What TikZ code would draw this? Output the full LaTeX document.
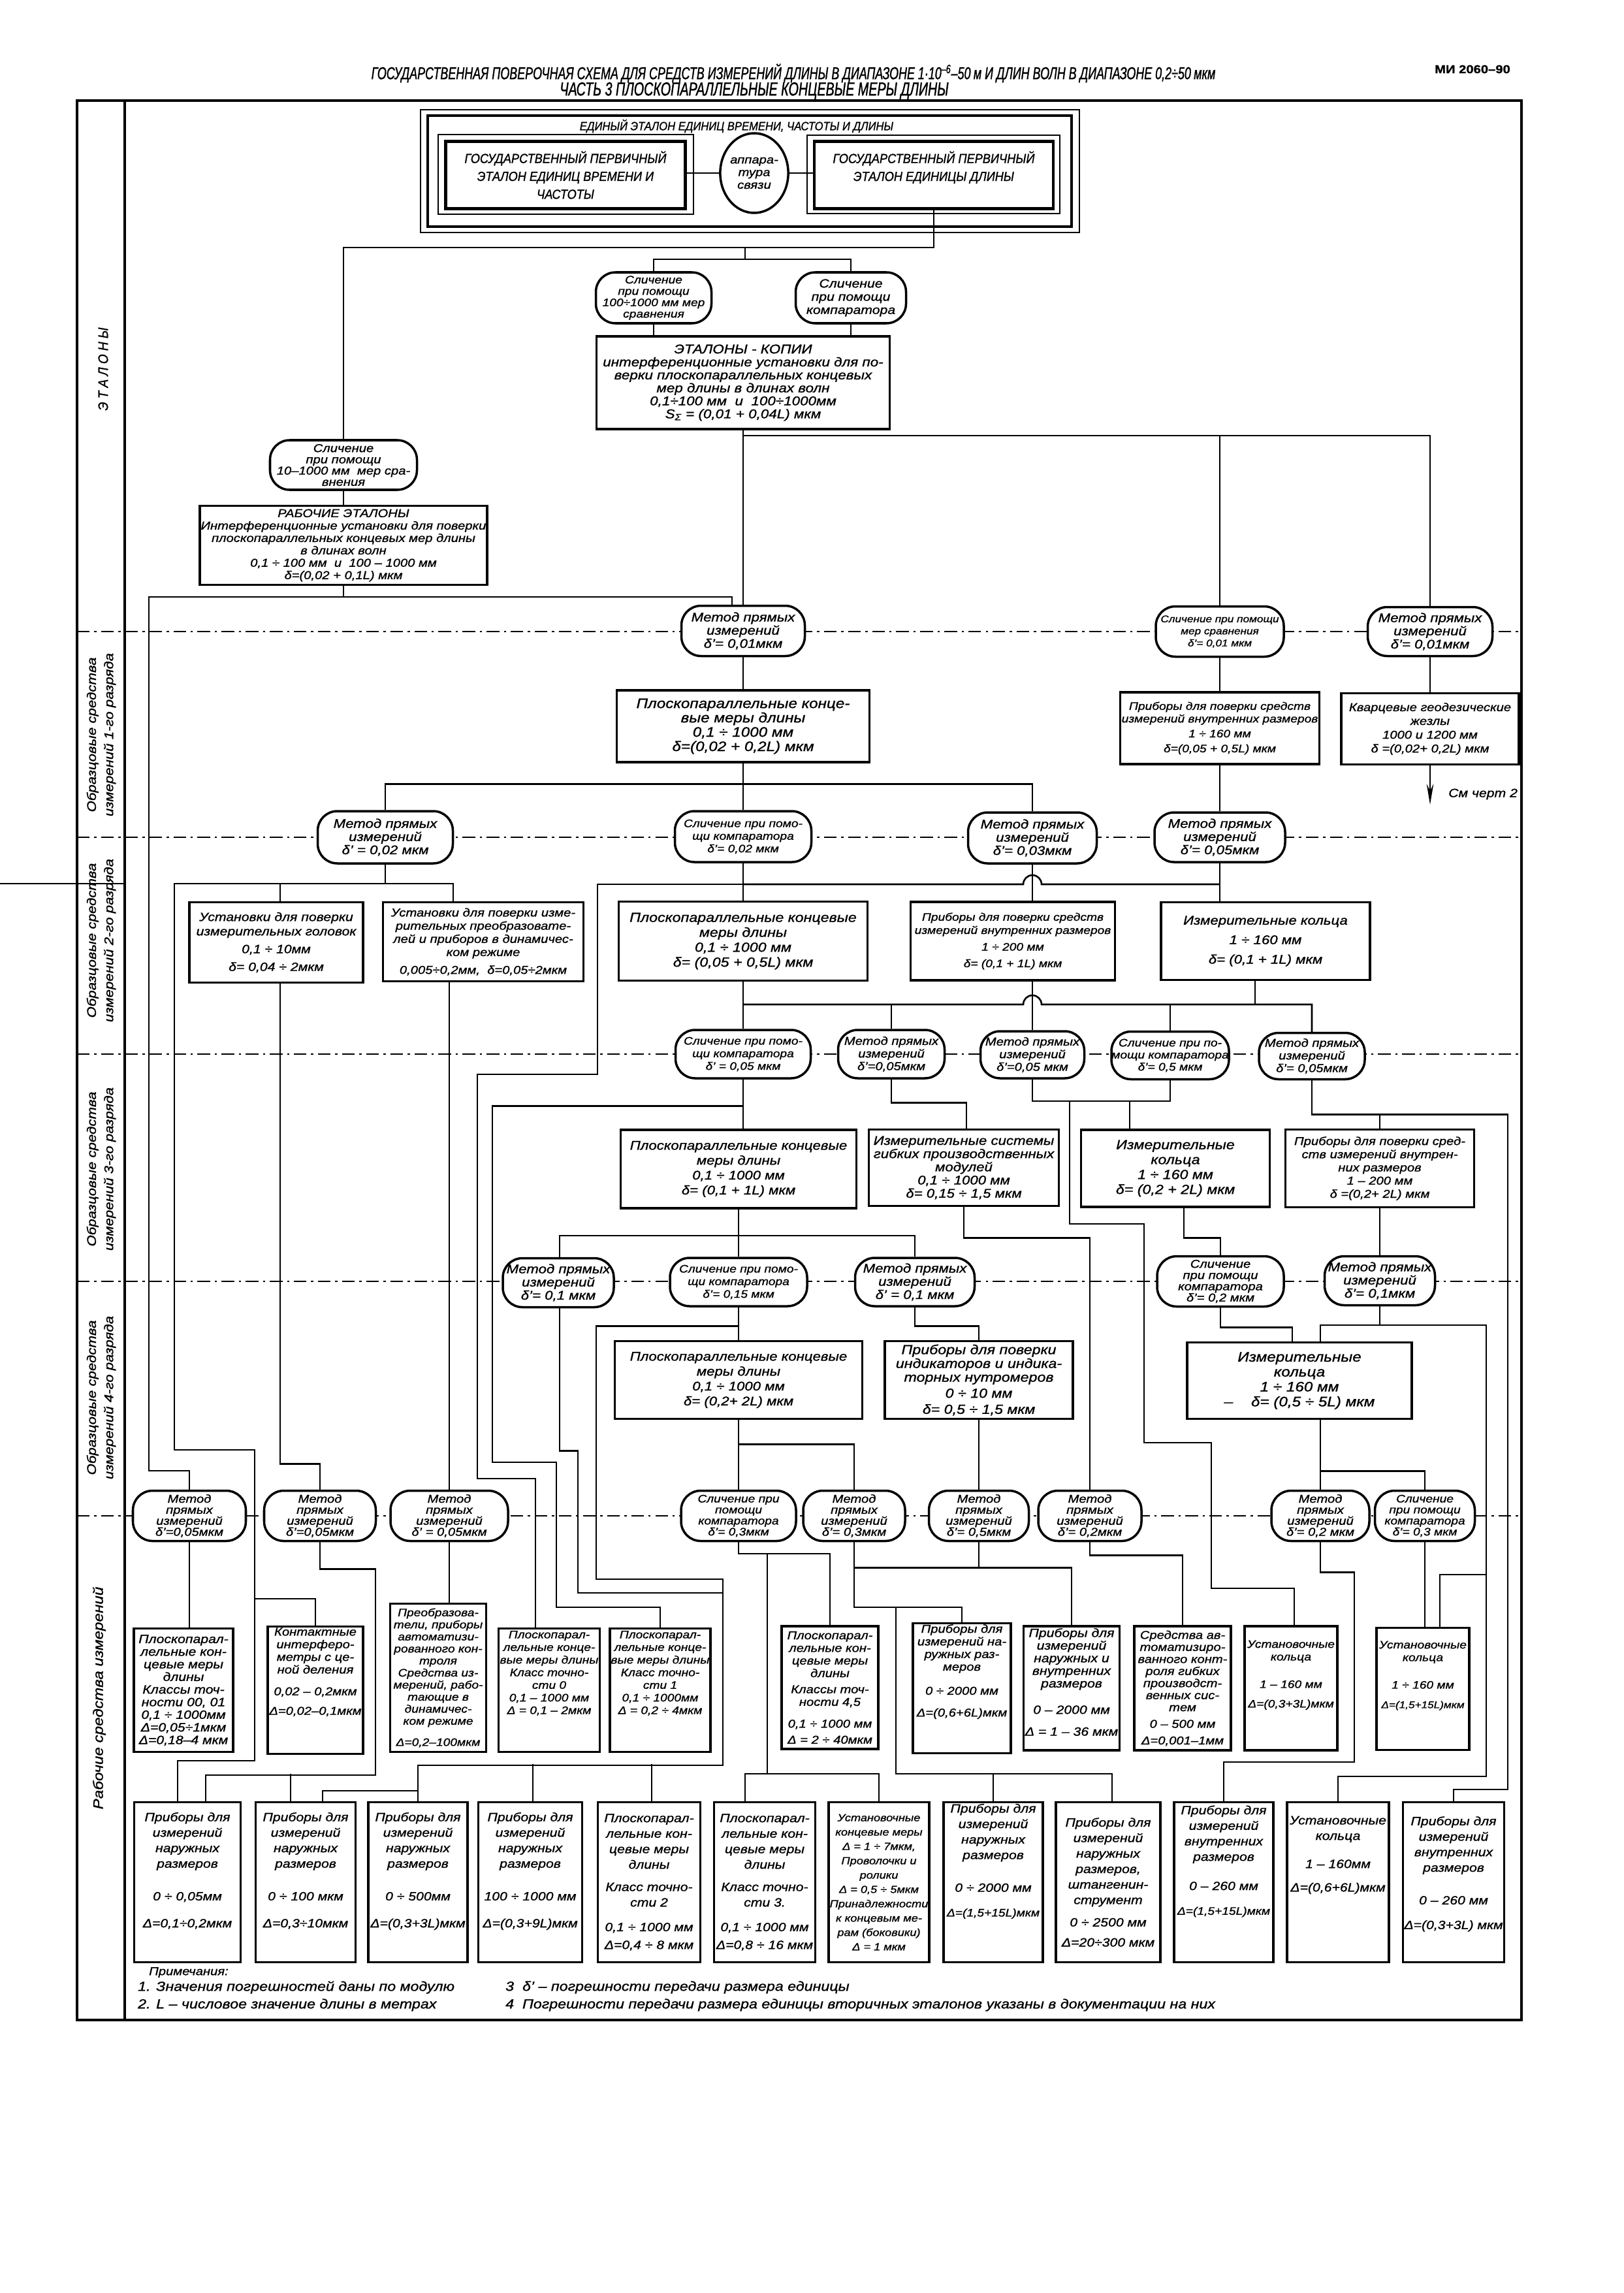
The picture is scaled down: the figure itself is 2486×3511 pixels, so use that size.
\documentclass[tikz,border=0pt]{standalone}
\usepackage{fontspec}
\setmainfont{Liberation Sans}[FakeStretch=1.15, FakeBold=1.2]
\newfontfamily\capfont{Liberation Sans}[FakeStretch=0.9, FakeBold=1.2]
\newfontfamily\ttlfont{Liberation Sans}[FakeStretch=0.68, FakeBold=1.2]
\usetikzlibrary{shapes.geometric, arrows.meta, calc}

\begin{document}
\begin{tikzpicture}[
    x=0.02cm, y=-0.02cm,
    font=\itshape\fontsize{10}{11}\selectfont,
    wh/.style 2 args={minimum width=#1*0.02cm, minimum height=#2*0.02cm},
    fs/.style 2 args={font=\itshape\fontsize{#1}{#2}\selectfont},
    cap/.style 2 args={font=\capfont\itshape\fontsize{#1}{#2}\selectfont},
    ttl/.style={font=\ttlfont\itshape\fontsize{15}{17}\selectfont},
    box/.style={draw, line width=2pt, fill=white, align=center, inner sep=1pt},
    dbox/.style={box, line width=2.6pt},
    meth/.style={draw, line width=2pt, fill=white, align=center, inner sep=0pt, rounded corners=0.6cm},
    ln/.style={line width=1.5pt},
    frm/.style={line width=2.2pt},
    dd/.style={line width=1pt, dash pattern=on 11pt off 4pt on 2pt off 4pt},
    lbl/.style={rotate=90, align=center, fs={11}{15}},
]
\fill[white] (0,0) rectangle (2486,3511);
\useasboundingbox (0,0) rectangle (2486,3511);
\draw[dd] (118,967) -- (2330,967);
\draw[dd] (118,1282) -- (2330,1282);
\draw[dd] (118,1614) -- (2330,1614);
\draw[dd] (118,1962) -- (2330,1962);
\draw[dd] (118,2321) -- (2330,2321);
\draw[frm] (118,154) rectangle (2330,3093);
\draw[frm] (191,154) -- (191,3093);
\draw[ln] (0,1353) -- (191,1353);

\node[ttl] (hdr1) at (1215,112) {ГОСУДАРСТВЕННАЯ ПОВЕРОЧНАЯ СХЕМА ДЛЯ СРЕДСТВ ИЗМЕРЕНИЙ ДЛИНЫ В ДИАПАЗОНЕ 1·10\textsuperscript{–6}–50\,м И ДЛИН ВОЛН В ДИАПАЗОНЕ 0,2÷50\,мкм};
\node[ttl, font=\ttlfont\itshape\fontsize{16.5}{18}\selectfont] (hdr2) at (1155,139) {ЧАСТЬ 3 ПЛОСКОПАРАЛЛЕЛЬНЫЕ КОНЦЕВЫЕ МЕРЫ ДЛИНЫ};
\node[font=\bfseries\fontsize{10}{12}\selectfont] (mi) at (2255,106) {МИ 2060–90};

\node[lbl, cap={12}{14}] (lv0) at (158,565) {Э Т А Л О Н Ы};
\node[lbl] (lv1) at (155,1125) {Образцовые средства\\измерений 1-го разряда};
\node[lbl] (lv2) at (155,1440) {Образцовые средства\\измерений 2-го разряда};
\node[lbl] (lv3) at (155,1790) {Образцовые средства\\измерений 3-го разряда};
\node[lbl] (lv4) at (155,2140) {Образцовые средства\\измерений 4-го разряда};
\node[lbl, fs={12}{15}] (lv5) at (152,2600) {Рабочие средства измерений};

\node[dbox, wh={986}{170}] (unit) at (1148,262) {};
\draw[line width=1pt] ($(unit.north west)+(-9,-7)$) rectangle ($(unit.south east)+(10,7)$);
\node[cap={10.5}{12}] (unitT) at (1128,193) {ЕДИНЫЙ ЭТАЛОН ЕДИНИЦ ВРЕМЕНИ, ЧАСТОТЫ И ДЛИНЫ};
\node[dbox, wh={367}{103}, cap={11.5}{15.6}] (pvc) at (866,268) {ГОСУДАРСТВЕННЫЙ ПЕРВИЧНЫЙ\\ЭТАЛОН ЕДИНИЦ ВРЕМЕНИ И\\ЧАСТОТЫ};
\draw[line width=1pt] ($(pvc.north west)+(-9,-8)$) rectangle ($(pvc.south east)+(10,6)$);
\node[ellipse, draw, line width=2pt, fill=white, align=center, inner sep=0pt, wh={100}{122}] (svz) at (1155,265) {аппара-\\тура\\связи};
\node[dbox, wh={366}{103}, cap={11.5}{15.6}] (pdl) at (1430,268) {ГОСУДАРСТВЕННЫЙ ПЕРВИЧНЫЙ\\ЭТАЛОН ЕДИНИЦЫ ДЛИНЫ\\\mbox{}};
\draw[line width=1pt] ($(pdl.north west)+(-9,-7)$) rectangle ($(pdl.south east)+(8,5)$);

\node[meth, wh={177}{78}, fs={9.5}{9.9}] (slA) at (1001,456) {Сличение\\при помощи\\100÷1000 мм мер\\сравнения};
\node[meth, wh={169}{78}, fs={10.5}{11.5}] (slB) at (1303,456) {Сличение\\при помощи\\компаратора};
\node[box, wh={449}{142}, fs={11.1}{11.3}] (ek) at (1138,586) {ЭТАЛОНЫ - КОПИИ\\интерференционные установки для по-\\верки плоскопараллельных концевых\\мер длины в длинах волн\\0,1÷100 мм \ и \ 100÷1000мм\\S\textsubscript{Σ} = (0,01 + 0,04L) мкм};
\node[meth, wh={225}{76}, fs={10}{9.8}] (slC) at (526,712) {Сличение\\при помощи\\10–1000 мм \ мер сра-\\внения};
\node[box, wh={439}{121}, fs={10}{10.8}] (re) at (526,835) {РАБОЧИЕ ЭТАЛОНЫ\\Интерференционные установки для поверки\\плоскопараллельных концевых мер длины\\в длинах волн\\0,1 ÷ 100 мм \ и \ 100 – 1000 мм\\δ=(0,02 + 0,1L) мкм};

\node[meth, wh={189}{77}, fs={11}{11.5}] (met01) at (1138,966) {Метод прямых\\измерений\\δ'= 0,01мкм};
\node[meth, wh={196}{77}, fs={8.5}{10.5}] (sl01) at (1868,967) {Сличение при помощи\\мер сравнения\\δ'= 0,01 мкм};
\node[meth, wh={191}{75}, fs={11}{11.5}] (met01b) at (2190,967) {Метод прямых\\измерений\\δ'= 0,01мкм};
\node[box, wh={387}{110}, fs={12}{12.5}] (pk1) at (1138,1112) {Плоскопараллельные конце-\\вые меры длины\\0,1 ÷ 1000 мм\\δ=(0,02 + 0,2L) мкм};
\node[box, wh={305}{110}, fs={9.5}{11}] (pvr1) at (1868,1115) {Приборы для поверки средств\\измерений внутренних размеров\\[2pt]1 ÷ 160 мм\\[2pt]δ=(0,05 + 0,5L) мкм};
\node[box, wh={272}{109}, fs={10}{12}] (kgz) at (2190,1116) {Кварцевые геодезические\\жезлы\\1000 и 1200 мм\\δ =(0,02+ 0,2L) мкм};
\coordinate (ch2) at (2190,1232);
\node[anchor=west, fs={10.5}{12}] (ch2t) at (2212,1216) {См черт 2};

\node[meth, wh={207}{80}, fs={11}{11.5}] (met02) at (590,1282) {Метод прямых\\измерений\\δ' = 0,02 мкм};
\node[meth, wh={209}{78}, fs={9.5}{11}] (sl02) at (1138,1281) {Сличение при помо-\\щи компаратора\\δ'= 0,02 мкм};
\node[meth, wh={197}{78}, fs={11}{11.5}] (met03) at (1581,1283) {Метод прямых\\измерений\\δ'= 0,03мкм};
\node[meth, wh={200}{76}, fs={11}{11.5}] (met05a) at (1868,1282) {Метод прямых\\измерений\\δ'= 0,05мкм};
\node[box, wh={266}{123}, fs={10.5}{12.5}] (ustG) at (423,1443) {Установки для поверки\\измерительных головок\\[3pt]0,1 ÷ 10мм\\[3pt]δ= 0,04 ÷ 2мкм};
\node[box, wh={307}{121}, fs={10}{11.5}] (ustP) at (740,1442) {Установки для поверки изме-\\рительных преобразовате-\\лей и приборов в динамичес-\\ком режиме\\[4pt]0,005÷0,2мм, \ δ=0,05÷2мкм};
\node[box, wh={381}{121}, fs={11.5}{13}] (pk2) at (1138,1441) {Плоскопараллельные концевые\\меры длины\\0,1 ÷ 1000 мм\\δ= (0,05 + 0,5L) мкм};
\node[box, wh={313}{120}, fs={9.5}{11.5}] (pvr2) at (1551,1441) {Приборы для поверки средств\\измерений внутренних размеров\\[3pt]1 ÷ 200 мм\\[3pt]δ= (0,1 + 1L) мкм};
\node[box, wh={320}{119}, fs={11}{13}] (ik2) at (1938,1441) {Измерительные кольца\\[4pt]1 ÷ 160 мм\\[4pt]δ= (0,1 + 1L) мкм};

\node[meth, wh={207}{74}, fs={9.5}{11}] (sl05) at (1138,1614) {Сличение при помо-\\щи компаратора\\δ' = 0,05 мкм};
\node[meth, wh={163}{74}, fs={10}{11}] (met05b) at (1365,1614) {Метод прямых\\измерений\\δ'=0,05мкм};
\node[meth, wh={159}{72}, fs={10}{11}] (met05c) at (1581,1615) {Метод прямых\\измерений\\δ'=0,05 мкм};
\node[meth, wh={180}{73}, fs={9.5}{10.5}] (sl5) at (1792,1616) {Сличение при по-\\мощи компаратора\\δ'= 0,5 мкм};
\node[meth, wh={162}{71}, fs={10}{11}] (met05d) at (2009,1617) {Метод прямых\\измерений\\δ'= 0,05мкм};
\node[box, wh={361}{120}, fs={11}{13}] (pk3) at (1131,1790) {Плоскопараллельные концевые\\меры длины\\0,1 ÷ 1000 мм\\δ= (0,1 + 1L) мкм};
\node[box, wh={291}{117}, fs={11}{11.5}] (igps) at (1476,1788) {Измерительные системы\\гибких производственных\\модулей\\0,1 ÷ 1000 мм\\δ= 0,15 ÷ 1,5 мкм};
\node[box, wh={289}{118}, fs={11.5}{13}] (ik3) at (1800,1789) {Измерительные\\кольца\\1 ÷ 160 мм\\δ= (0,2 + 2L) мкм};
\node[box, wh={289}{119}, fs={10}{11.5}] (pvr3) at (2113,1789) {Приборы для поверки сред-\\ств измерений внутрен-\\них размеров\\1 – 200 мм\\δ =(0,2+ 2L) мкм};

\node[meth, wh={170}{75}, fs={11}{11.5}] (met1a) at (855,1964) {Метод прямых\\измерений\\δ'= 0,1 мкм};
\node[meth, wh={210}{74}, fs={9.5}{11}] (sl15) at (1131,1963) {Сличение при помо-\\щи компаратора\\δ'= 0,15 мкм};
\node[meth, wh={183}{74}, fs={11}{11.5}] (met1b) at (1401,1963) {Метод прямых\\измерений\\δ' = 0,1 мкм};
\node[meth, wh={194}{77}, fs={10}{9.8}] (sl2) at (1869,1962) {Сличение\\при помощи\\компаратора\\δ'= 0,2 мкм};
\node[meth, wh={169}{75}, fs={11}{11.5}] (met1c) at (2113,1961) {Метод прямых\\измерений\\δ'= 0,1мкм};
\node[box, wh={379}{119}, fs={11}{13}] (pk4) at (1131,2113) {Плоскопараллельные концевые\\меры длины\\0,1 ÷ 1000 мм\\δ= (0,2+ 2L) мкм};
\node[box, wh={288}{119}, fs={11.5}{12}] (pind) at (1499,2113) {Приборы для поверки\\индикаторов и индика-\\торных нутромеров\\[2pt]0 ÷ 10 мм\\[2pt]δ= 0,5 ÷ 1,5 мкм};
\node[box, wh={344}{117}, fs={12}{13}] (ik4) at (1990,2114) {Измерительные\\кольца\\1 ÷ 160 мм\\– \quad δ= (0,5 ÷ 5L) мкм};

\node[meth, wh={173}{77}, fs={10}{9.6}] (r1) at (290,2321) {Метод\\прямых\\измерений\\δ'=0,05мкм};
\node[meth, wh={171}{77}, fs={10}{9.6}] (r2) at (490,2321) {Метод\\прямых\\измерений\\δ'=0,05мкм};
\node[meth, wh={180}{77}, fs={10}{9.6}] (r3) at (688,2321) {Метод\\прямых\\измерений\\δ' = 0,05мкм};
\node[meth, wh={176}{77}, fs={9.5}{9.6}] (r4) at (1131,2321) {Сличение при\\помощи\\компаратора\\δ'= 0,3мкм};
\node[meth, wh={156}{77}, fs={10}{9.6}] (r5) at (1308,2321) {Метод\\прямых\\измерений\\δ'= 0,3мкм};
\node[meth, wh={153}{77}, fs={10}{9.6}] (r6) at (1499,2321) {Метод\\прямых\\измерений\\δ'= 0,5мкм};
\node[meth, wh={158}{77}, fs={10}{9.6}] (r7) at (1669,2321) {Метод\\прямых\\измерений\\δ'= 0,2мкм};
\node[meth, wh={150}{77}, fs={10}{9.6}] (r8) at (2022,2321) {Метод\\прямых\\измерений\\δ'= 0,2 мкм};
\node[meth, wh={153}{77}, fs={9.5}{9.6}] (r9) at (2182,2321) {Сличение\\при помощи\\компаратора\\δ'= 0,3 мкм};

\node[box, wh={152}{189}, fs={10.5}{11}] (b1) at (281,2588) {Плоскопарал-\\лельные кон-\\цевые меры\\длины\\Классы точ-\\ности 00, 01\\0,1 ÷ 1000мм\\Δ=0,05÷1мкм\\Δ=0,18–4 мкм};
\node[box, wh={146}{189}, fs={10}{11}] (b2) at (483,2588) {Контактные\\интерферо-\\метры с це-\\ной деления\\[8pt]0,02 – 0,2мкм\\[6pt]Δ=0,02–0,1мкм\\[22pt]\mbox{}};
\node[box, wh={147}{227}, fs={9.5}{10.5}] (b3) at (671,2569) {Преобразова-\\тели, приборы\\автоматизи-\\рованного кон-\\троля\\Средства из-\\мерений, рабо-\\тающие в\\динамичес-\\ком режиме\\[8pt]Δ=0,2–100мкм};
\node[box, wh={155}{189}, fs={9.5}{11}] (b4) at (841,2588) {Плоскопарал-\\лельные конце-\\вые меры длины\\Класс точно-\\сти 0\\0,1 – 1000 мм\\Δ = 0,1 – 2мкм\\[20pt]\mbox{}};
\node[box, wh={148}{189}, fs={9.5}{11}] (b5) at (1011,2588) {Плоскопарал-\\лельные конце-\\вые меры длины\\Класс точно-\\сти 1\\0,1 ÷ 1000мм\\Δ = 0,2 ÷ 4мкм\\[20pt]\mbox{}};
\node[box, wh={148}{188}, fs={10}{11}] (b6) at (1271,2584) {Плоскопарал-\\лельные кон-\\цевые меры\\длины\\[3pt]Классы точ-\\ности 4,5\\[8pt]0,1 ÷ 1000 мм\\[3pt]Δ = 2 ÷ 40мкм};
\node[box, wh={150}{190}, fs={10}{11}] (b7) at (1473,2585) {Приборы для\\измерений на-\\ружных раз-\\меров\\[10pt]0 ÷ 2000 мм\\[8pt]Δ=(0,6+6L)мкм\\[20pt]\mbox{}};
\node[box, wh={147}{190}, fs={10.5}{11}] (b8) at (1641,2585) {Приборы для\\измерений\\наружных и\\внутренних\\размеров\\[12pt]0 – 2000 мм\\[8pt]Δ = 1 – 36 мкм\\\mbox{}};
\node[box, wh={148}{190}, fs={10}{10.5}] (b9) at (1811,2585) {Средства ав-\\томатизиро-\\ванного конт-\\роля гибких\\производст-\\венных сис-\\тем\\[4pt]0 – 500 мм\\[4pt]Δ=0,001–1мм};
\node[box, wh={142}{190}, fs={9.5}{11}] (b10) at (1977,2585) {Установочные\\кольца\\[13pt]1 – 160 мм\\[6pt]Δ=(0,3+3L)мкм\\[14pt]\mbox{}};
\node[box, wh={142}{187}, fs={9.5}{11}] (b11) at (2179,2586) {Установочные\\кольца\\[13pt]1 ÷ 160 мм\\[6pt]{\fontsize{8.5}{11}\selectfont Δ=(1,5+15L)мкм}\\[14pt]\mbox{}};

\node[box, wh={163}{245}, fs={10.5}{13.5}] (c1) at (287,2882) {Приборы для\\измерений\\наружных\\размеров\\[15pt]0 ÷ 0,05мм\\[10pt]Δ=0,1÷0,2мкм\\[8pt]\mbox{}};
\node[box, wh={153}{245}, fs={10.5}{13.5}] (c2) at (468,2882) {Приборы для\\измерений\\наружных\\размеров\\[15pt]0 ÷ 100 мкм\\[10pt]Δ=0,3÷10мкм\\[8pt]\mbox{}};
\node[box, wh={152}{245}, fs={10.5}{13.5}] (c3) at (640,2882) {Приборы для\\измерений\\наружных\\размеров\\[15pt]0 ÷ 500мм\\[10pt]Δ=(0,3+3L)мкм\\[8pt]\mbox{}};
\node[box, wh={159}{245}, fs={10.5}{13.5}] (c4) at (812,2882) {Приборы для\\измерений\\наружных\\размеров\\[15pt]100 ÷ 1000 мм\\[10pt]Δ=(0,3+9L)мкм\\[8pt]\mbox{}};
\node[box, wh={157}{245}, fs={10.5}{13.5}] (c5) at (994,2882) {Плоскопарал-\\лельные кон-\\цевые меры\\длины\\[6pt]Класс точно-\\сти 2\\[8pt]0,1 ÷ 1000 мм\\[2pt]Δ=0,4 ÷ 8 мкм};
\node[box, wh={155}{245}, fs={10.5}{13.5}] (c6) at (1171,2882) {Плоскопарал-\\лельные кон-\\цевые меры\\длины\\[6pt]Класс точно-\\сти 3.\\[8pt]0,1 ÷ 1000 мм\\[2pt]Δ=0,8 ÷ 16 мкм};
\node[box, wh={153}{245}, fs={9}{12.5}] (c7) at (1346,2882) {Установочные\\концевые меры\\Δ = 1 ÷ 7мкм,\\Проволочки и\\ролики\\Δ = 0,5 ÷ 5мкм\\Принадлежности\\к концевым ме-\\рам (боковики)\\Δ = 1 мкм};
\node[box, wh={152}{245}, fs={10.5}{13.5}] (c8) at (1521,2882) {Приборы для\\измерений\\наружных\\размеров\\[15pt]0 ÷ 2000 мм\\[8pt]{\fontsize{9.5}{13}\selectfont Δ=(1,5+15L)мкм}\\[25pt]\mbox{}};
\node[box, wh={160}{245}, fs={10.5}{13.5}] (c9) at (1697,2882) {Приборы для\\измерений\\наружных\\размеров,\\штангенин-\\струмент\\[6pt]0 ÷ 2500 мм\\[4pt]Δ=20÷300 мкм};
\node[box, wh={152}{245}, fs={10.5}{13.5}] (c10) at (1874,2882) {Приборы для\\измерений\\внутренних\\размеров\\[12pt]0 – 260 мм\\[8pt]{\fontsize{9.5}{13}\selectfont Δ=(1,5+15L)мкм}\\[25pt]\mbox{}};
\node[box, wh={156}{245}, fs={10.5}{13.5}] (c11) at (2049,2882) {Установочные\\кольца\\[11pt]1 – 160мм\\[7pt]Δ=(0,6+6L)мкм\\[36pt]\mbox{}};
\node[box, wh={153}{245}, fs={10.5}{13.5}] (c12) at (2226,2882) {Приборы для\\измерений\\внутренних\\размеров\\[15pt]0 – 260 мм\\[8pt]Δ=(0,3+3L) мкм\\[3pt]\mbox{}};

\node[anchor=west, fs={10}{12}] (nt0) at (222,3020) {Примечания:};
\node[anchor=west, fs={11.5}{13}] (nt1) at (205,3043) {1. Значения погрешностей даны по модулю};
\node[anchor=west, fs={11.5}{13}] (nt2) at (205,3070) {2. L – числовое значение длины в метрах};
\node[anchor=west, fs={11.5}{13}] (nt3) at (768,3043) {3 \ δ' – погрешности передачи размера единицы};
\node[anchor=west, fs={11.5}{13}] (nt4) at (768,3070) {4 \ Погрешности передачи размера единицы вторичных эталонов указаны в документации на них};

\coordinate (t1) at (1141,379);
\coordinate (t3) at (1138,667);
\coordinate (t4) at (526,914);
\coordinate (t6) at (590,1353);
\coordinate (t7) at (390,2448);
\coordinate (t8) at (1138,1354);
\coordinate (t9) at (1138,1538);
\coordinate (t10) at (1638,1686);
\coordinate (t12) at (1131,1892);
\coordinate (t13) at (2113,2029);
\coordinate (q0) at (1107,2439);
\coordinate (q1) at (640,2742);
\coordinate (q2) at (2276,2411);
\coordinate (q3) at (1175,2379);
\coordinate (q4) at (1175,2716);
\coordinate (q5) at (1372,2461);
\coordinate (q6) at (1372,2716);

\draw[ln] (svz.west) -- (svz.west -| pvc.east);
\draw[ln] (svz.east) -- (svz.east -| pdl.west);
\draw[ln] (pdl.south) |- (t1) -| (slC.north);
\draw[ln] (t1) -- ++(0,18) coordinate (t2);
\draw[ln] (slA.north) |- (t2) -| (slB.north);
\draw[ln] (slA.south) -- (slA.south |- ek.north);
\draw[ln] (slB.south) -- (slB.south |- ek.north);
\draw[ln] (slC.south) -- (re.north);
\draw[ln] (ek.south) -- (met01.north);
\draw[ln] (t3) -| (sl01.north);
\draw[ln] (t3) -| (met01b.north);
\draw[ln] (re.south) -- (t4);
\draw[ln] (t4) -| ($(met01.north)+(-17,0)$);
\draw[ln] (t4) -| (228,2252) -| (r1.north);

\draw[ln] (met01.south) -- (pk1.north);
\draw[ln] (sl01.south) -- (pvr1.north);
\draw[ln] (met01b.south) -- (kgz.north);
\draw[ln, -{Stealth[length=18pt, width=6pt]}] (kgz.south) -- (ch2);
\draw[ln] (pk1.south) -- ++(0,32) coordinate (t5);
\draw[ln] (met02.north) |- (t5) -| (met03.north);
\draw[ln] (t5) -- (sl02.north);
\draw[ln] (pvr1.south) -- (met05a.north);

\draw[ln] (met02.south) -- (t6);
\draw[ln] ($(ustG.north)+(6,0)$) |- (t6) -| ($(ustP.north)+(-46,0)$);
\draw[ln] (t6) -| (267,2220) -| (t7) -| (b2.north);
\draw[ln] (t7) -- (390,2696) -| ($(c1.north)+(-15,0)$);
\draw[ln] ($(ustG.south)+(6,0)$) -- ++(0,735) -| (r2.north);
\draw[ln] ($(ustP.south)+(-52,0)$) -- (r3.north);
\draw[ln] (sl02.south) -- (pk2.north);
\draw[ln] (t8) -| (915,1645) -| (731,2264) -| ($(b4.north)+(-21,0)$);
\draw[ln] (t8) -- (1567,1354) arc[start angle=180, end angle=0, radius=0.28cm] -- (met05a.south |- t8);
\draw[ln] (met05a.south) -- (ik2.north -| met05a.south);
\draw[ln] (met03.south) -- (pvr2.north -| met03.south);

\draw[ln] (pk2.south) -- (sl05.north);
\draw[ln] (t9) -- (1567,1538) arc[start angle=180, end angle=0, radius=0.28cm] -| (met05d.north);
\draw[ln] (met05b.north) -- (met05b.north |- t9);
\draw[ln] (sl5.north) -- (sl5.north |- t9);
\draw[ln] ($(ik2.south)+(-16,0)$) -- ++(0,37);
\draw[ln] (pvr2.south -| met03.south) -- (met05c.north);
\draw[ln] (sl05.south) -- (pk3.north -| sl05.south);
\draw[ln] (sl05.south) ++(0,41) -| (754,2239) -| (852,2461) -| (b5.north);
\draw[ln] (met05b.south) -- ++(0,36) -| ($(igps.north)+(4,0)$);
\draw[ln] (igps.south) -- ++(0,47) -| (r7.north);
\draw[ln] (met05c.south) |- (t10) -| (sl5.south);
\draw[ln] ($(ik3.north)+(-70,0)$) -- ++(0,-43);
\draw[ln] (t10) -- (1638,1874) -| (1752,2209) -| (1855,2432) -| ($(b10.north)+(5,0)$);
\draw[ln] (met05d.south) -- ++(0,52) coordinate (t11) -| (2309,2740) -| (c12.north);
\draw[ln] (pvr3.north) -- (pvr3.north |- t11);
\draw[ln] (pk3.south) -- (sl15.north);
\draw[ln] ($(met1a.north)+(2,0)$) |- (t12) -| (met1b.north);
\draw[ln] ($(ik3.south)+(13,0)$) -- ++(0,46) -| (sl2.north);
\draw[ln] (pvr3.south) -- (met1c.north);

\draw[ln] ($(met1a.south)+(2,0)$) -- ++(0,218) -| (885,2439) -- (q0);
\draw[ln] (sl15.south) -- (pk4.north);
\draw[ln] (sl15.south) ++(0,29) -| (913,2418) -| (1107,2703) -| (q1);
\draw[ln] (q1) -- (c3.north);
\draw[ln] (q1) -| ($(c2.north)+(26,0)$);
\draw[ln] ($(c4.north)+(4,0)$) -- ++(0,-57);
\draw[ln] ($(c5.north)+(4,0)$) -- ++(0,-57);
\draw[ln] (met1b.south) -- ++(0,29) -| (pind.north);
\draw[ln] (sl2.south) -- ++(0,30) -| ($(ik4.north)+(-11,0)$);
\draw[ln] (met1c.south) -- (t13);
\draw[ln] ($(ik4.north)+(32,0)$) |- (t13) -| (q2) -| ($(b11.north)+(26,0)$);
\draw[ln] (q2) -- (2276,2720) -| (c11.north);
\draw[ln] (pk4.south) -- ++(0,37) coordinate (t14);
\draw[ln] (r4.north) |- (t14) -| (r5.north);
\draw[ln] (pind.south) -- (r6.north);
\draw[ln] ($(ik4.south)+(32,0)$) -- ++(0,78) coordinate (t15) -| (r9.north);
\draw[ln] (t15) -- (r8.north);

\draw[ln] (r1.south) -- (r1.south |- b1.north);
\draw[ln] (r2.south) -- ++(0,41) -| (575,2718) -| ($(c1.north)+(28,0)$);
\draw[ln] ($(c2.north)+(-23,0)$) -- ++(0,-42);
\draw[ln] (r3.south) -- (r3.south |- b3.north);
\draw[ln] (r4.south) |- (q3) -| (b6.north);
\draw[ln] (q3) -- (q4);
\draw[ln] ($(c6.north)+(-30,0)$) |- (q4) -| (c7.north);
\draw[ln] (r5.south) |- (q5) -| (b7.north);
\draw[ln] (r5.south) ++(0,39) -| (b8.north);
\draw[ln] (r6.south) -- ++(0,39);
\draw[ln] (q5) -- (q6) -| ($(c9.north)+(6,0)$);
\draw[ln] (c8.north) -- (c8.north |- q6);
\draw[ln] (r7.south) -- ++(0,20) -| (b9.north);
\draw[ln] (r8.south) -- ++(0,46) -| (2074,2698) -| (c10.north);
\draw[ln] (r9.south) -- (r9.south |- b11.north);
\end{tikzpicture}
\end{document}
